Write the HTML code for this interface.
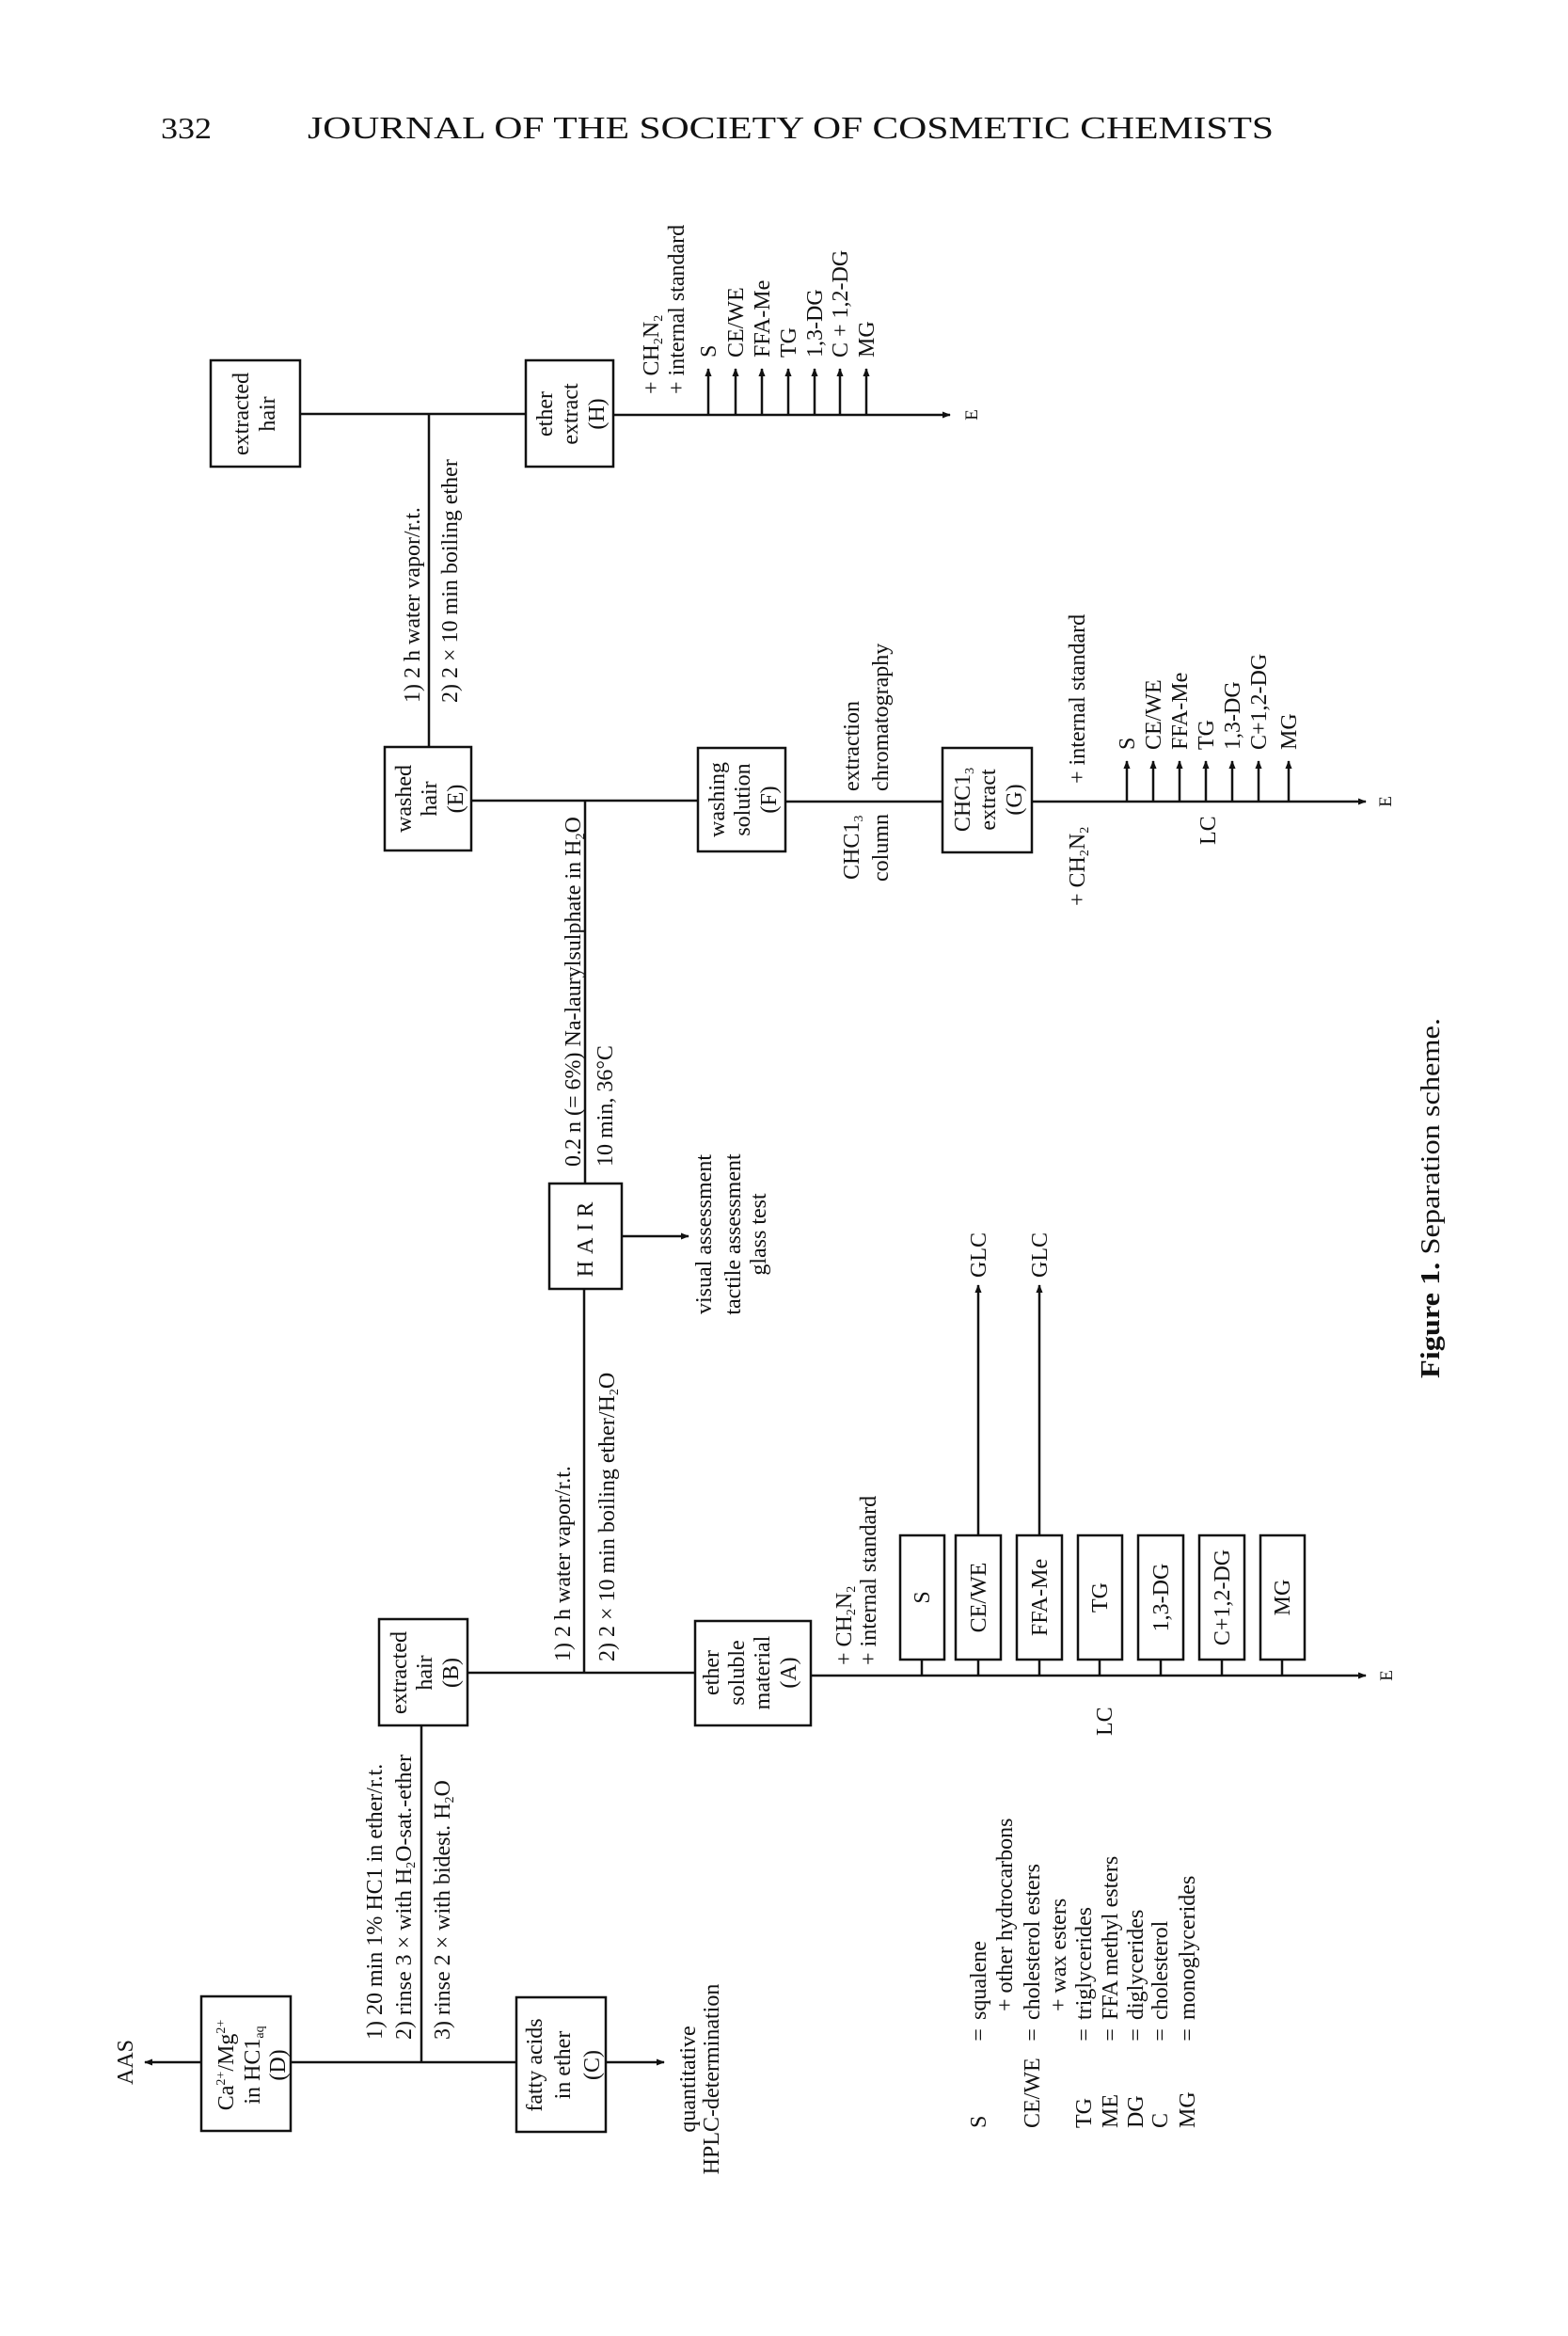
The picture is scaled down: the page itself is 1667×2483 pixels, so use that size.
<!DOCTYPE html>
<html><head><meta charset="utf-8"><style>
html,body{margin:0;padding:0;background:#fff}
svg{display:block}
text{font-family:"Liberation Serif",serif;fill:#111}
.l{font-size:24px}
.b{font-size:24px}
</style></head><body>
<svg width="1667" height="2483" viewBox="0 0 1667 2483" xmlns="http://www.w3.org/2000/svg">
<defs>
<marker id="a" viewBox="0 0 10 10" refX="9" refY="5" markerWidth="9" markerHeight="9" markerUnits="userSpaceOnUse" orient="auto"><path d="M0,1 L10,5 L0,9 Z" fill="#111"/></marker>
</defs>
<text x="171" y="147" font-size="32" textLength="54" lengthAdjust="spacingAndGlyphs">332</text>
<text x="327" y="147" font-size="34" textLength="1027" lengthAdjust="spacingAndGlyphs">JOURNAL OF THE SOCIETY OF COSMETIC CHEMISTS</text>

<g stroke="#111" stroke-width="2.5" fill="none">
<rect x="224" y="383" width="95" height="113"/>
<line x1="319" y1="440" x2="559" y2="440"/>
<line x1="456" y1="440" x2="456" y2="793"/>
<rect x="559" y="383" width="93" height="113"/>
<line x1="652" y1="441" x2="1010" y2="441" marker-end="url(#a)"/>
<line x1="753" y1="441" x2="753" y2="392" marker-end="url(#a)"/>
<line x1="782" y1="441" x2="782" y2="392" marker-end="url(#a)"/>
<line x1="810" y1="441" x2="810" y2="392" marker-end="url(#a)"/>
<line x1="838" y1="441" x2="838" y2="392" marker-end="url(#a)"/>
<line x1="866" y1="441" x2="866" y2="392" marker-end="url(#a)"/>
<line x1="893" y1="441" x2="893" y2="392" marker-end="url(#a)"/>
<line x1="921" y1="441" x2="921" y2="392" marker-end="url(#a)"/>
<rect x="409" y="794" width="92" height="110"/>
<line x1="501" y1="851" x2="742" y2="851"/>
<line x1="622" y1="851" x2="622" y2="1258"/>
<rect x="742" y="795" width="93" height="110"/>
<line x1="835" y1="852" x2="1002" y2="852"/>
<rect x="1002" y="795" width="95" height="111"/>
<line x1="1097" y1="852" x2="1452" y2="852" marker-end="url(#a)"/>
<line x1="1198" y1="852" x2="1198" y2="809" marker-end="url(#a)"/>
<line x1="1226" y1="852" x2="1226" y2="809" marker-end="url(#a)"/>
<line x1="1254" y1="852" x2="1254" y2="809" marker-end="url(#a)"/>
<line x1="1282" y1="852" x2="1282" y2="809" marker-end="url(#a)"/>
<line x1="1310" y1="852" x2="1310" y2="809" marker-end="url(#a)"/>
<line x1="1338" y1="852" x2="1338" y2="809" marker-end="url(#a)"/>
<line x1="1370" y1="852" x2="1370" y2="809" marker-end="url(#a)"/>
<rect x="584" y="1258" width="77" height="112"/>
<line x1="661" y1="1314" x2="732" y2="1314" marker-end="url(#a)"/>
<line x1="621" y1="1370" x2="621" y2="1778"/>
<rect x="403" y="1721" width="94" height="113"/>
<line x1="497" y1="1778" x2="739" y2="1778"/>
<rect x="739" y="1723" width="123" height="111"/>
<line x1="862" y1="1781" x2="1452" y2="1781" marker-end="url(#a)"/>
<rect x="957" y="1632" width="47" height="132"/>
<rect x="1016" y="1632" width="48" height="132"/>
<rect x="1081" y="1632" width="48" height="132"/>
<rect x="1146" y="1632" width="47" height="132"/>
<rect x="1210" y="1632" width="48" height="132"/>
<rect x="1275" y="1632" width="48" height="132"/>
<rect x="1340" y="1632" width="47" height="132"/>
<line x1="980" y1="1764" x2="980" y2="1781"/>
<line x1="1040" y1="1764" x2="1040" y2="1781"/>
<line x1="1105" y1="1764" x2="1105" y2="1781"/>
<line x1="1169" y1="1764" x2="1169" y2="1781"/>
<line x1="1234" y1="1764" x2="1234" y2="1781"/>
<line x1="1299" y1="1764" x2="1299" y2="1781"/>
<line x1="1363" y1="1764" x2="1363" y2="1781"/>
<line x1="1040" y1="1632" x2="1040" y2="1366" marker-end="url(#a)"/>
<line x1="1105" y1="1632" x2="1105" y2="1366" marker-end="url(#a)"/>
<line x1="448" y1="1834" x2="448" y2="2192"/>
<rect x="214" y="2122" width="95" height="143"/>
<line x1="214" y1="2192" x2="154" y2="2192" marker-end="url(#a)"/>
<line x1="309" y1="2192" x2="549" y2="2192"/>
<rect x="549" y="2123" width="95" height="143"/>
<line x1="644" y1="2192" x2="706" y2="2192" marker-end="url(#a)"/>
</g>

<g class="b" text-anchor="middle">
<text transform="translate(264,440) rotate(-90)">extracted</text>
<text transform="translate(292,440) rotate(-90)">hair</text>
<text transform="translate(587,440) rotate(-90)">ether</text>
<text transform="translate(614,440) rotate(-90)">extract</text>
<text transform="translate(642,440) rotate(-90)">(H)</text>
<text transform="translate(437,849) rotate(-90)">washed</text>
<text transform="translate(464,849) rotate(-90)">hair</text>
<text transform="translate(492,849) rotate(-90)">(E)</text>
<text transform="translate(770,850) rotate(-90)">washing</text>
<text transform="translate(797,850) rotate(-90)">solution</text>
<text transform="translate(825,850) rotate(-90)">(F)</text>
<text transform="translate(1031,850) rotate(-90)">CHC1<tspan font-size="14" dy="4">3</tspan></text>
<text transform="translate(1058,850) rotate(-90)">extract</text>
<text transform="translate(1086,850) rotate(-90)">(G)</text>
<text transform="translate(630,1314) rotate(-90)" letter-spacing="7">HAIR</text>
<text transform="translate(432,1778) rotate(-90)">extracted</text>
<text transform="translate(459,1778) rotate(-90)">hair</text>
<text transform="translate(487,1778) rotate(-90)">(B)</text>
<text transform="translate(764,1778) rotate(-90)">ether</text>
<text transform="translate(791,1778) rotate(-90)">soluble</text>
<text transform="translate(818,1778) rotate(-90)">material</text>
<text transform="translate(846,1778) rotate(-90)">(A)</text>
<text transform="translate(988,1698) rotate(-90)">S</text>
<text transform="translate(1048,1698) rotate(-90)">CE/WE</text>
<text transform="translate(1113,1698) rotate(-90)">FFA-Me</text>
<text transform="translate(1177,1698) rotate(-90)">TG</text>
<text transform="translate(1242,1698) rotate(-90)">1,3-DG</text>
<text transform="translate(1307,1698) rotate(-90)">C+1,2-DG</text>
<text transform="translate(1371,1698) rotate(-90)">MG</text>
<text transform="translate(248,2195) rotate(-90)">Ca<tspan font-size="14" dy="-9">2+</tspan><tspan dy="9">/Mg</tspan><tspan font-size="14" dy="-9">2+</tspan></text>
<text transform="translate(276,2195) rotate(-90)">in HC1<tspan font-size="14" dy="4">aq</tspan></text>
<text transform="translate(303,2195) rotate(-90)">(D)</text>
<text transform="translate(576,2195) rotate(-90)">fatty acids</text>
<text transform="translate(606,2195) rotate(-90)">in ether</text>
<text transform="translate(637,2195) rotate(-90)">(C)</text>
</g>

<g class="l">
<text transform="translate(446,747) rotate(-90)">1)  2 h water vapor/r.t.</text>
<text transform="translate(486,747) rotate(-90)">2)  2 × 10 min boiling ether</text>
<text transform="translate(700,419) rotate(-90)">+ CH<tspan font-size="14" dy="4">2</tspan><tspan dy="-4">N</tspan><tspan font-size="14" dy="4">2</tspan></text>
<text transform="translate(727,419) rotate(-90)">+ internal standard</text>
<text transform="translate(761,380) rotate(-90)">S</text>
<text transform="translate(790,380) rotate(-90)">CE/WE</text>
<text transform="translate(818,380) rotate(-90)">FFA-Me</text>
<text transform="translate(846,380) rotate(-90)">TG</text>
<text transform="translate(874,380) rotate(-90)">1,3-DG</text>
<text transform="translate(901,380) rotate(-90)">C + 1,2-DG</text>
<text transform="translate(929,380) rotate(-90)">MG</text>
<text transform="translate(1039,441) rotate(-90)" text-anchor="middle" font-size="19">E</text>

<text transform="translate(913,841) rotate(-90)">extraction</text>
<text transform="translate(944,841) rotate(-90)">chromatography</text>
<text transform="translate(913,935) rotate(-90)">CHC1<tspan font-size="14" dy="4">3</tspan></text>
<text transform="translate(944,937) rotate(-90)">column</text>
<text transform="translate(1153,833) rotate(-90)">+ internal standard</text>
<text transform="translate(1153,963) rotate(-90)">+ CH<tspan font-size="14" dy="4">2</tspan><tspan dy="-4">N</tspan><tspan font-size="14" dy="4">2</tspan></text>
<text transform="translate(1206,797) rotate(-90)">S</text>
<text transform="translate(1234,797) rotate(-90)">CE/WE</text>
<text transform="translate(1262,797) rotate(-90)">FFA-Me</text>
<text transform="translate(1290,797) rotate(-90)">TG</text>
<text transform="translate(1318,797) rotate(-90)">1,3-DG</text>
<text transform="translate(1346,797) rotate(-90)">C+1,2-DG</text>
<text transform="translate(1378,797) rotate(-90)">MG</text>
<text transform="translate(1292,898) rotate(-90)">LC</text>
<text transform="translate(1479,852) rotate(-90)" text-anchor="middle" font-size="19">E</text>

<text transform="translate(617,1240) rotate(-90)">0.2 n (= 6%) Na-laurylsulphate in H<tspan font-size="14" dy="4">2</tspan><tspan dy="-4">O</tspan></text>
<text transform="translate(651,1240) rotate(-90)">10 min, 36°C</text>
<g text-anchor="middle">
<text transform="translate(756,1312) rotate(-90)">visual assessment</text>
<text transform="translate(787,1312) rotate(-90)">tactile assessment</text>
<text transform="translate(814,1312) rotate(-90)">glass test</text>
<text transform="translate(141,2192) rotate(-90)">AAS</text>
<text transform="translate(739,2210) rotate(-90)">quantitative</text>
<text transform="translate(764,2210) rotate(-90)">HPLC-determination</text>
<text transform="translate(1480,1781) rotate(-90)" font-size="19">E</text>
</g>
<text transform="translate(606,1766) rotate(-90)">1)  2 h water vapor/r.t.</text>
<text transform="translate(653,1766) rotate(-90)">2)  2 × 10 min boiling ether/H<tspan font-size="14" dy="4">2</tspan><tspan dy="-4">O</tspan></text>
<text transform="translate(905,1770) rotate(-90)">+ CH<tspan font-size="14" dy="4">2</tspan><tspan dy="-4">N</tspan><tspan font-size="14" dy="4">2</tspan></text>
<text transform="translate(931,1770) rotate(-90)">+ internal standard</text>
<text transform="translate(1048,1358) rotate(-90)">GLC</text>
<text transform="translate(1113,1358) rotate(-90)">GLC</text>
<text transform="translate(1182,1845) rotate(-90)">LC</text>

<text transform="translate(406,2168) rotate(-90)">1)  20 min 1% HC1 in ether/r.t.</text>
<text transform="translate(437,2168) rotate(-90)">2)  rinse 3 × with H<tspan font-size="14" dy="4">2</tspan><tspan dy="-4">O-sat.-ether</tspan></text>
<text transform="translate(478,2168) rotate(-90)">3)  rinse 2 × with bidest. H<tspan font-size="14" dy="4">2</tspan><tspan dy="-4">O</tspan></text>

<text transform="translate(1048,2262) rotate(-90)">S</text>
<text transform="translate(1105,2262) rotate(-90)">CE/WE</text>
<text transform="translate(1160,2262) rotate(-90)">TG</text>
<text transform="translate(1188,2262) rotate(-90)">ME</text>
<text transform="translate(1215,2262) rotate(-90)">DG</text>
<text transform="translate(1241,2262) rotate(-90)">C</text>
<text transform="translate(1270,2262) rotate(-90)">MG</text>
<g text-anchor="middle">
<text transform="translate(1048,2163) rotate(-90)">=</text>
<text transform="translate(1105,2163) rotate(-90)">=</text>
<text transform="translate(1160,2163) rotate(-90)">=</text>
<text transform="translate(1188,2163) rotate(-90)">=</text>
<text transform="translate(1215,2163) rotate(-90)">=</text>
<text transform="translate(1241,2163) rotate(-90)">=</text>
<text transform="translate(1270,2163) rotate(-90)">=</text>
</g>
<text transform="translate(1048,2147) rotate(-90)">squalene</text>
<text transform="translate(1076,2138) rotate(-90)">+ other hydrocarbons</text>
<text transform="translate(1105,2147) rotate(-90)">cholesterol esters</text>
<text transform="translate(1133,2138) rotate(-90)">+ wax esters</text>
<text transform="translate(1160,2147) rotate(-90)">triglycerides</text>
<text transform="translate(1188,2147) rotate(-90)">FFA methyl esters</text>
<text transform="translate(1215,2147) rotate(-90)">diglycerides</text>
<text transform="translate(1241,2147) rotate(-90)">cholesterol</text>
<text transform="translate(1270,2147) rotate(-90)">monoglycerides</text>
</g>

<text transform="translate(1530,1465) rotate(-90)" font-size="28" textLength="383" lengthAdjust="spacingAndGlyphs"><tspan font-weight="bold">Figure 1.</tspan>  Separation scheme.</text>
</svg>
</body></html>
